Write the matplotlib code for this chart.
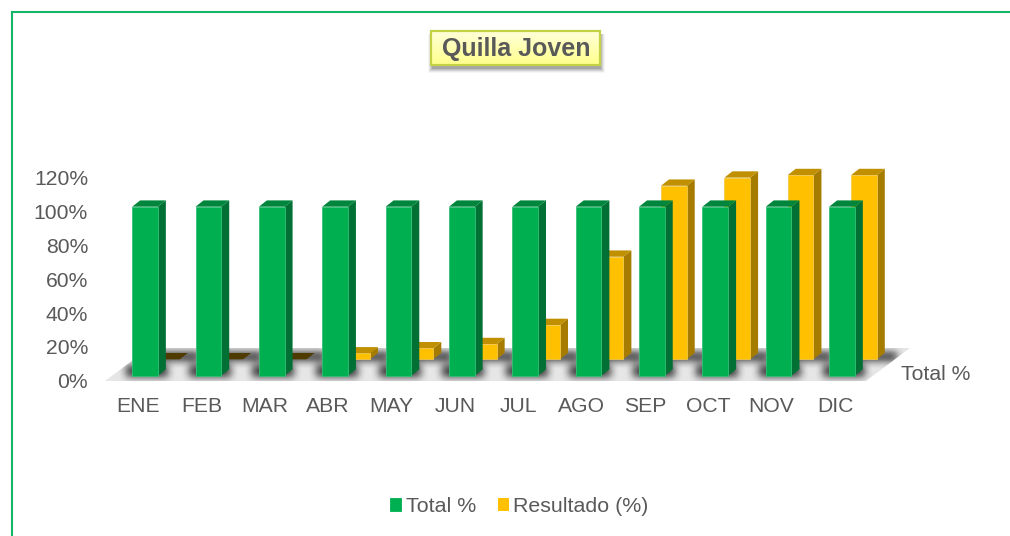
import numpy as np
import matplotlib
matplotlib.use("Agg")
import matplotlib.pyplot as plt
from matplotlib.patches import Polygon, Rectangle
from matplotlib.transforms import ScaledTranslation

months = ["ENE", "FEB", "MAR", "ABR", "MAY", "JUN", "JUL", "AGO", "SEP", "OCT", "NOV", "DIC"]
total_pct = [100, 100, 100, 100, 100, 100, 100, 100, 100, 100, 100, 100]
resultado_pct = [0, 0, 0, 3.5, 6.5, 9, 20.3, 60.7, 102.7, 107.5, 109, 109]
y_ticks = [0, 20, 40, 60, 80, 100, 120]
series_names = ["Total %", "Resultado (%)"]
title_text = "Quilla Joven"
depth_label = "Total %"

plt.rcParams["font.family"] = ["Liberation Sans", "DejaVu Sans"]
TXT = "#595959"
W, H = 1010, 536
fig = plt.figure(figsize=(W / 100, H / 100), dpi=100, facecolor="white")

# pixel overlay for chart furniture
bg = fig.add_axes([0, 0, 1, 1], zorder=0)
bg.set_xlim(0, W); bg.set_ylim(H, 0); bg.axis("off")

# frame
bg.plot([11.5, 11.5, W], [H, 12, 12], color="#14b566", lw=1.5, solid_capstyle="butt", solid_joinstyle="miter")

# floor
floor_xy = [(105, 381), (866, 381), (910, 348), (149, 348)]
bg.add_patch(Polygon(floor_xy, closed=True, fc="#e6e6e6", ec="none", zorder=1))

# data axes
PX_L, PX_R, PX_BASE = 100, 880, 375.7
PX_CAT, PX_PCT = 63.36, 1.69
CAT0 = 145
ax_h = 120 * PX_PCT
ax = fig.add_axes([PX_L / W, (H - PX_BASE) / H, (PX_R - PX_L) / W, ax_h / H], zorder=2)
ax.patch.set_alpha(0)
ax.set_xlim((PX_L - CAT0) / PX_CAT, (PX_R - CAT0) / PX_CAT)
ax.set_ylim(0, 120)
for s in ax.spines.values():
    s.set_visible(False)

x = np.arange(len(months))
bw = 25.7 / PX_CAT
dep_x, dep_y = 8 / PX_CAT, 6.3 / PX_PCT
back_x, back_y = 22 / PX_CAT, 16.4 / PX_PCT


def bar3d(xs, vals, base, front, side, top, edge, zero_col, label, z):
    for xi, v in zip(xs, vals):
        l, r = xi - bw / 2, xi + bw / 2
        b, t = base, base + v
        ax.fill([r, r + dep_x, r + dep_x, r], [b, b + dep_y, t + dep_y, t],
                color=side, lw=0, clip_on=False, zorder=z)
        ax.fill([l, r, r + dep_x, l + dep_x], [t, t, t + dep_y, t + dep_y],
                color=top if v > 0 else zero_col, lw=0, clip_on=False, zorder=z)
    cont = ax.bar(xs, vals, width=bw, bottom=base, color=front, edgecolor=edge, linewidth=0.6,
                  label=label, clip_on=False, zorder=z + 0.5)
    for p, v in zip(cont.patches, vals):
        if v == 0:
            p.set_linewidth(0)
            p.set_edgecolor("none")
    return cont


bars_y = bar3d(x + back_x, resultado_pct, back_y, "#ffc000", "#a67c00", "#c09000", "#f2c84b", "#4f3a00", series_names[1], 3)
bars_g = bar3d(x, total_pct, 0, "#00b050", "#007034", "#00863c", "#34c078", "#007034", series_names[0], 4)

# ground shadows, placed from the category positions
x0, y0, x1, y1 = 95, 340, 920, 390
field = np.zeros((y1 - y0, x1 - x0))
for i in x:
    L = CAT0 + i * PX_CAT - 12.85
    field[365 - y0:377 - y0, int(L - 6 - x0):int(L + 36 - x0)] = 1
    field[352 - y0:361 - y0, int(L + 14 - x0):int(L + 68 - x0)] = 1
kern = np.ones(9) / 9
for _ in range(2):
    field = np.apply_along_axis(lambda r: np.convolve(r, kern, mode="same"), 1, field)
    field = np.apply_along_axis(lambda c: np.convolve(c, kern, mode="same"), 0, field)
rgba = np.zeros(field.shape + (4,))
rgba[..., 3] = np.clip(field * 0.75, 0, 1)
im = bg.imshow(rgba, extent=(x0, x1, y1, y0), aspect="auto", zorder=2, interpolation="bilinear")
im.set_clip_path(Polygon(floor_xy, closed=True, transform=bg.transData))
bg.set_xlim(0, W); bg.set_ylim(H, 0)

# ticks
ax.set_yticks(y_ticks)
ax.set_yticklabels([f"{v}%" for v in y_ticks], fontsize=15.2, color=TXT)
ax.set_xticks(x)
ax.set_xticklabels(months, fontsize=15.2, color=TXT)
ax.tick_params(axis="both", length=0)
ax.tick_params(axis="y", pad=8.6)
ax.tick_params(axis="x", pad=15.2)
for lb in ax.get_yticklabels():
    lb.set_transform(lb.get_transform() + ScaledTranslation(0, -5 / 100, fig.dpi_scale_trans))
for lb in ax.get_xticklabels():
    lb.set_transform(lb.get_transform() + ScaledTranslation(-7 / 100, 0, fig.dpi_scale_trans))

# depth axis label
bg.text(901, 374.5, depth_label, fontsize=15.2, color=TXT, ha="left", va="center", zorder=5)

# title box
for k, a in zip((5, 4, 3, 2, 1), (0.04, 0.06, 0.08, 0.1, 0.12)):
    bg.add_patch(Rectangle((431 - k + 2, 31 + 3), 169 + 2 * k - 2, 34 + k, fc="black", ec="none", alpha=a, zorder=5))
grad = np.linspace(0, 1, 64)[:, None, None] * (np.array([1, 1, 0.55]) - np.array([1, 1, 0.85])) + np.array([1, 1, 0.85])
bg.imshow(grad, extent=(431, 600, 65, 31), aspect="auto", zorder=6)
bg.set_xlim(0, W); bg.set_ylim(H, 0)
bg.add_patch(Rectangle((431, 31), 169, 34, fc="none", ec="#c3d244", lw=1.6, zorder=7))
bg.text(516, 49, title_text, fontsize=18, fontweight="bold", color=TXT, ha="center", va="center", zorder=8)

# legend
leg = ax.legend(handles=[bars_g, bars_y], loc="center", bbox_to_anchor=(519.5 / W, (H - 506.5) / H),
                bbox_transform=fig.transFigure, ncol=2, frameon=False, fontsize=15.4,
                handlelength=0.52, handleheight=0.52, handletextpad=0.22, columnspacing=1.0,
                labelcolor=TXT, borderpad=0, borderaxespad=0)
for h, c in zip(leg.legend_handles, ("#00b050", "#ffc000")):
    h.set_facecolor(c); h.set_edgecolor(c)

fig.savefig("out.png", dpi=100)
